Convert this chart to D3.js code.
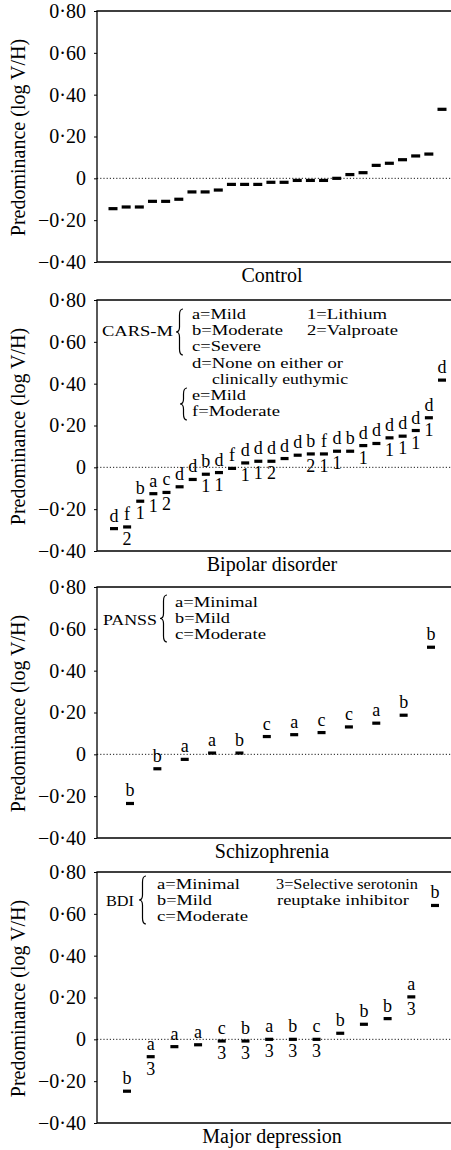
<!DOCTYPE html>
<html>
<head>
<meta charset="utf-8">
<script src="https://cdn.jsdelivr.net/npm/d3@7"></script>
<style>
  body { margin: 0; background: #fff; }
  svg { display: block; font-family: "Liberation Serif", "Times New Roman", serif; }
</style>
</head>
<body>
<svg id="chart" width="451" height="1150"></svg>
<script>
// values (log V/H), sorted within each group
const controlValues = [-0.145, -0.137, -0.137, -0.110, -0.110, -0.100, -0.065, -0.065, -0.056,
    -0.029, -0.029, -0.029, -0.019, -0.019, -0.010, -0.010, -0.010, 0.000, 0.018, 0.027,
    0.062, 0.072, 0.089, 0.107, 0.116, 0.330];

const bipolarValues = [-0.293, -0.285, -0.162, -0.126, -0.120, -0.093, -0.058, -0.033, -0.025,
    -0.005, 0.021, 0.029, 0.029, 0.042, 0.058, 0.064, 0.064, 0.077, 0.077, 0.104, 0.114,
    0.141, 0.149, 0.176, 0.237, 0.417];
const bipolarTop = ["d", "f", "b", "a", "c", "d", "d", "b", "d", "f", "d", "d", "d", "d", "d",
    "b", "f", "d", "b", "d", "d", "d", "d", "d", "d", "d"];
const bipolarBottom = ["", "2", "1", "1", "2", "", "", "1", "1", "", "1", "1", "2", "", "",
    "2", "1", "1", "", "1", "", "1", "1", "1", "1", ""];

const schizoValues = [-0.235, -0.069, -0.024, 0.006, 0.006, 0.085, 0.094, 0.104, 0.131, 0.149, 0.187, 0.512];
const schizoTop = ["b", "b", "a", "a", "b", "c", "a", "c", "c", "a", "b", "b"];

const depressionValues = [-0.248, -0.083, -0.035, -0.026, -0.008, -0.008, 0.000, 0.000, 0.000,
    0.029, 0.072, 0.099, 0.203, 0.640];
const depressionTop = ["b", "a", "a", "a", "c", "b", "a", "b", "c", "b", "b", "b", "a", "b"];
const depressionBottom = ["", "3", "", "", "3", "3", "3", "3", "3", "", "", "", "3", ""];

const tickValues = [-0.4, -0.2, 0, 0.2, 0.4, 0.6, 0.8];
const yDomain = [-0.4, 0.8];
const yTitle = "Predominance (log V/H)";

// legend lines: [text, x, baseline y, width in the figure]
const panels = [
    { title: "Control", values: controlValues, top: null, bottom: null,
      y0: 11, xr: [113, 442], dash: 9, legend: [] },
    { title: "Bipolar disorder", values: bipolarValues, top: bipolarTop, bottom: bipolarBottom,
      y0: 300, xr: [114, 442], dash: 8,
      legend: [["CARS-M", 102, 336, 71],
        ["a=Mild", 192, 319, 54], ["b=Moderate", 192, 335, 91], ["c=Severe", 192, 351, 69],
        ["d=None on either or", 192, 368, 151], ["clinically euthymic", 212, 384, 136],
        ["e=Mild", 192, 400, 54], ["f=Moderate", 192, 416, 88],
        ["1=Lithium", 307, 319, 80], ["2=Valproate", 307, 335, 91]],
      braces: [{ x: 176, y1: 309, y2: 355 }, { x: 180, y1: 388, y2: 420 }] },
    { title: "Schizophrenia", values: schizoValues, top: schizoTop, bottom: null,
      y0: 587, xr: [130, 431], dash: 8,
      legend: [["PANSS", 103, 625, 54],
        ["a=Minimal", 175, 607, 83], ["b=Mild", 175, 623, 55], ["c=Moderate", 175, 639, 91]],
      braces: [{ x: 160, y1: 595, y2: 642 }] },
    { title: "Major depression", values: depressionValues, top: depressionTop, bottom: depressionBottom,
      y0: 872, xr: [127, 435], dash: 8,
      legend: [["BDI", 106, 906, 28],
        ["a=Minimal", 157, 889, 83], ["b=Mild", 157, 905, 55], ["c=Moderate", 157, 921, 91],
        ["3=Selective serotonin", 276, 889, 142], ["reuptake inhibitor", 277, 905, 132]],
      braces: [{ x: 139, y1: 876, y2: 924 }] }
];

const svg = d3.select("#chart");
const left = 97, right = 451, h = 251;

function fmt(v) {
    if (v === 0) return "0";
    const s = Math.abs(v).toFixed(2).replace(".", "\u00b7");
    return v < 0 ? "\u2212" + s : s;
}

// curly brace pointing left
function bracePath(x, y1, y2) {
    const w = 7, m = (y1 + y2) / 2, xm = x + w / 2;
    return `M${x + w},${y1} Q${xm},${y1} ${xm},${y1 + 6} L${xm},${m - 5} Q${xm},${m} ${x},${m}` +
        ` Q${xm},${m} ${xm},${m + 5} L${xm},${y2 - 6} Q${xm},${y2} ${x + w},${y2}`;
}

for (const p of panels) {
    const g = svg.append("g");
    const y = d3.scaleLinear().domain(yDomain).range([p.y0 + h, p.y0]);
    const x = d3.scaleLinear().domain([0, p.values.length - 1]).range(p.xr);

    // axis with ticks and labels
    const ax = g.append("g")
        .attr("transform", `translate(${left},0)`)
        .call(d3.axisLeft(y).tickValues(tickValues).tickSize(3).tickPadding(8).tickFormat(fmt));
    ax.select(".domain").remove();
    ax.selectAll("text").attr("font-size", 20).attr("font-family", "Liberation Serif").attr("fill", "#000");
    ax.selectAll("line").attr("stroke", "#000");

    // frame
    g.append("path")
        .attr("d", `M${right},${y(0.8)} H${left} V${y(-0.4)} H${right}`)
        .attr("fill", "none").attr("stroke", "#000").attr("stroke-width", 1.3);

    // zero line
    g.append("line")
        .attr("x1", left).attr("x2", right).attr("y1", y(0)).attr("y2", y(0))
        .attr("stroke", "#000").attr("stroke-width", 0.9).attr("stroke-dasharray", "1.2,2");

    // y title
    g.append("text")
        .attr("transform", `translate(25,${p.y0 + h / 2 + 1}) rotate(-90)`)
        .attr("text-anchor", "middle").attr("font-size", 20)
        .text(yTitle);

    // group title
    g.append("text")
        .attr("x", (left + right) / 2 - 2).attr("y", y(-0.4) + 20)
        .attr("text-anchor", "middle").attr("font-size", 20)
        .text(p.title);

    // markers
    g.selectAll("rect.mk").data(p.values).join("rect")
        .attr("class", "mk")
        .attr("x", (d, i) => x(i) - p.dash / 2)
        .attr("y", d => y(d) - 1.6)
        .attr("width", p.dash).attr("height", 3.2)
        .attr("fill", "#000");

    if (p.top) {
        g.selectAll("text.tp").data(p.values).join("text")
            .attr("class", "tp")
            .attr("x", (d, i) => x(i)).attr("y", d => y(d) - 7)
            .attr("text-anchor", "middle").attr("font-size", 18)
            .text((d, i) => p.top[i]);
    }
    if (p.bottom) {
        g.selectAll("text.bt").data(p.values).join("text")
            .attr("class", "bt")
            .attr("x", (d, i) => x(i)).attr("y", d => y(d) + 18)
            .attr("text-anchor", "middle").attr("font-size", 18)
            .text((d, i) => p.bottom[i]);
    }

    // legend: tight leading in the figure, so smaller glyphs stretched to the figure's widths
    g.selectAll("text.lg").data(p.legend).join("text")
        .attr("class", "lg")
        .attr("x", d => d[1]).attr("y", d => d[2])
        .attr("font-size", 15)
        .attr("textLength", d => d[3])
        .attr("lengthAdjust", "spacingAndGlyphs")
        .text(d => d[0]);
    g.selectAll("path.br").data(p.braces || []).join("path")
        .attr("class", "br")
        .attr("d", d => bracePath(d.x, d.y1, d.y2))
        .attr("fill", "none").attr("stroke", "#000").attr("stroke-width", 1.2);
}
</script>
</body>
</html>
